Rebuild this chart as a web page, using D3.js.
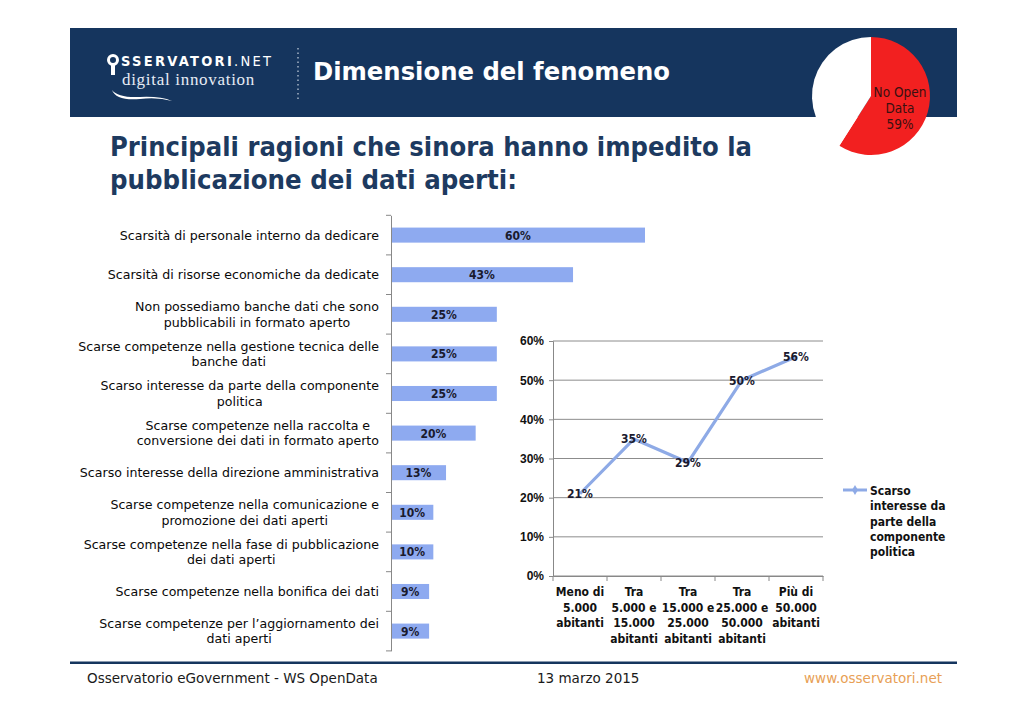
<!DOCTYPE html>
<html><head><meta charset="utf-8">
<script src="https://cdn.jsdelivr.net/npm/d3@7"></script>
<style>
html,body{margin:0;padding:0;background:#fff;}
svg{display:block;font-family:"DejaVu Sans",sans-serif;}
.cond{font-family:"DejaVu Sans Condensed","DejaVu Sans",sans-serif;}
</style></head>
<body><svg id="c" width="1024" height="718"></svg>
<script>
// ---- data ----
const barCategories = [
  "Scarsità di personale interno da dedicare",
  "Scarsità di risorse economiche da dedicate",
  "Non possediamo banche dati che sono|pubblicabili in formato aperto",
  "Scarse competenze nella gestione tecnica delle|banche dati",
  "Scarso interesse da parte della componente|politica",
  "Scarse competenze nella raccolta e|conversione dei dati in formato aperto",
  "Scarso interesse della direzione amministrativa",
  "Scarse competenze nella comunicazione e|promozione dei dati aperti",
  "Scarse competenze nella fase di pubblicazione|dei dati aperti",
  "Scarse competenze nella bonifica dei dati",
  "Scarse competenze per l\u2019aggiornamento dei|dati aperti"
];
const barValues = [0.60, 0.43, 0.25, 0.25, 0.25, 0.20, 0.13, 0.10, 0.10, 0.09, 0.09];

const lineCategories = ["Meno di|5.000|abitanti", "Tra|5.000 e|15.000|abitanti", "Tra|15.000 e|25.000|abitanti", "Tra|25.000 e|50.000|abitanti", "Più di|50.000|abitanti"];
const lineValues = [0.21, 0.35, 0.29, 0.50, 0.56];
const lineTicks = [0, 0.1, 0.2, 0.3, 0.4, 0.5, 0.6];
const lineSeriesName = "Scarso|interesse da|parte della|componente|politica";

const pieLabels = ["No Open|Data", "Open Data"];
const pieValues = [0.59, 0.41];

const svg = d3.select("#c");
const navy = "#15355e";
const barColor = "#8eaaf0";
const pct = d3.format(".0%");

// ---- header band ----
svg.append("rect").attr("x",70).attr("y",28).attr("width",887).attr("height",89).attr("fill",navy);
// logo
const logo = svg.append("g");
logo.append("circle").attr("cx",113).attr("cy",60).attr("r",4.5).attr("fill","none").attr("stroke","#fff").attr("stroke-width",3);
logo.append("rect").attr("x",111).attr("y",64).attr("width",4).attr("height",11).attr("fill","#fff");
logo.append("text").attr("class","cond").attr("x",121).attr("y",66).attr("fill","#fff").attr("font-size",14.5).attr("font-weight","bold").attr("letter-spacing",2.3).text("SSERVATORI")
  .append("tspan").attr("font-weight","normal").text(".NET");
logo.append("text").attr("x",122).attr("y",85).attr("fill","#e6ecf5").attr("font-size",17).attr("font-family","'Liberation Serif',serif").attr("letter-spacing",0.7).text("digital innovation");
logo.append("path").attr("d","M112,90 Q118,98 140,97 Q160,96 172,101 Q158,97 140,99 Q116,101 112,90Z").attr("fill","#fff");
// dotted separator
svg.append("line").attr("x1",298).attr("x2",298).attr("y1",48).attr("y2",101).attr("stroke","#c9d3e0").attr("stroke-width",1.2).attr("stroke-dasharray","1.5,3");
svg.append("text").attr("x",313).attr("y",80).attr("fill","#fff").attr("font-size",24).attr("font-weight","bold")
  .attr("textLength",357).attr("lengthAdjust","spacingAndGlyphs").text("Dimensione del fenomeno");

// ---- pie ----
const pie = d3.pie().sort(null).value(d=>d)(pieValues);
const arc = d3.arc().innerRadius(0).outerRadius(59);
const pg = svg.append("g").attr("transform","translate(871,96)");
pg.selectAll("path").data(pie).join("path").attr("d",arc).attr("fill",(d,i)=>i===0?"#f22020":"#ffffff");
const pl = svg.append("text").attr("class","cond").attr("text-anchor","middle").attr("fill","#3a1010").attr("font-size",13.5);
pieLabels[0].split("|").concat([pct(pieValues[0])]).forEach((t,i)=>pl.append("tspan").attr("x",900).attr("y",97+i*16).text(t));

// ---- title ----
const title = svg.append("g").attr("fill","#1d3a60").attr("font-weight","bold").attr("font-size",26);
title.append("text").attr("x",110).attr("y",156).attr("textLength",642).attr("lengthAdjust","spacingAndGlyphs").text("Principali ragioni che sinora hanno impedito la");
title.append("text").attr("x",110).attr("y",189).attr("textLength",407).attr("lengthAdjust","spacingAndGlyphs").text("pubblicazione dei dati aperti:");

// ---- bar chart ----
const x = d3.scaleLinear().domain([0,0.6]).range([391,645]);
const y = d3.scaleBand().domain(barCategories).range([215.3,650.9]).paddingInner(0.62).paddingOuter(0.31);
const bg = svg.append("g");
bg.selectAll("rect").data(barValues).join("rect")
  .attr("x",x(0)).attr("y",(d,i)=>y(barCategories[i])).attr("height",y.bandwidth())
  .attr("width",d=>x(d)-x(0)).attr("fill",barColor);
bg.selectAll("text.v").data(barValues).join("text").attr("class","v cond")
  .attr("x",d=>(x(0)+x(d))/2).attr("y",(d,i)=>y(barCategories[i])+y.bandwidth()/2+4.5)
  .attr("text-anchor","middle").attr("font-size",12).attr("font-weight","bold").attr("fill","#1a1a2e").text(d=>pct(d));
// axis
const ya = svg.append("g").attr("transform","translate(391,0)").call(d3.axisLeft(y).tickSize(0).tickFormat(""));
ya.select(".domain").attr("stroke","#888");
const step = y.step();
const bounds = d3.range(barCategories.length+1).map(i=>215.3+i*step);
svg.append("g").selectAll("line").data(bounds).join("line")
  .attr("x1",386).attr("x2",391).attr("y1",d=>d).attr("y2",d=>d).attr("stroke","#888");
// category labels
const lab = svg.append("g").attr("font-size",12.6).attr("fill","#0a0a0a");
barCategories.forEach((c,i)=>{
  const lines = c.split("|");
  const cy = y(c)+y.bandwidth()/2;
  const g = lab.append("g");
  const ts = lines.map((l,j)=>g.append("text").attr("text-anchor","middle")
      .attr("y",cy + 4.5 + (j-(lines.length-1)/2)*15.5).text(l));
  const w = d3.max(ts, t=>t.node().getComputedTextLength());
  ts.forEach(t=>t.attr("x",379-w/2));
});

// ---- line chart ----
const lx = d3.scaleBand().domain(lineCategories).range([553,823]);
const ly = d3.scaleLinear().domain([0,0.6]).range([576,341]);
const lg = svg.append("g").attr("class","cond");
lg.selectAll("line.g").data(lineTicks).join("line").attr("class","g")
  .attr("x1",553).attr("x2",823).attr("y1",d=>ly(d)).attr("y2",d=>ly(d)).attr("stroke","#8c8c8c").attr("stroke-width",1);
const lya = lg.append("g").attr("transform","translate(553,0)")
  .call(d3.axisLeft(ly).tickValues(lineTicks).tickFormat(pct).tickSize(4));
lya.select(".domain").attr("stroke","#888");
lya.selectAll(".tick line").attr("stroke","#888");
lya.selectAll("text").attr("font-size",12).attr("font-weight","bold").attr("fill","#111").attr("font-family","inherit").attr("dx",-2);
const lxa = lg.append("g").attr("transform","translate(0,576)").call(d3.axisBottom(lx).tickSize(0).tickFormat(""));
lxa.select(".domain").attr("stroke","#888");
lg.selectAll("line.xt").data(d3.range(lineCategories.length+1)).join("line").attr("class","xt")
  .attr("x1",d=>553+d*lx.step()).attr("x2",d=>553+d*lx.step()).attr("y1",576).attr("y2",581).attr("stroke","#888");
// x labels
lineCategories.forEach(c=>{
  const t = lg.append("text").attr("text-anchor","middle").attr("font-size",12).attr("font-weight","bold").attr("fill","#111");
  c.split("|").forEach((l,j)=>t.append("tspan").attr("x",lx(c)+lx.bandwidth()/2).attr("y",596+j*15.5).text(l));
});
const line = d3.line().x((d,i)=>lx(lineCategories[i])+lx.bandwidth()/2).y(d=>ly(d));
lg.append("path").datum(lineValues).attr("d",line).attr("fill","none").attr("stroke","#8eaae6").attr("stroke-width",3.2).attr("stroke-linejoin","round");
lg.selectAll("text.dl").data(lineValues).join("text").attr("class","dl")
  .attr("x",(d,i)=>lx(lineCategories[i])+lx.bandwidth()/2).attr("y",d=>ly(d)+4.5)
  .attr("text-anchor","middle").attr("font-size",12).attr("font-weight","bold").attr("fill","#1a1a2e").text(d=>pct(d));
// legend
const leg = svg.append("g").attr("class","cond");
leg.append("line").attr("x1",843).attr("x2",867).attr("y1",490).attr("y2",490).attr("stroke","#8eaae6").attr("stroke-width",3);
leg.append("path").attr("d",d3.symbol(d3.symbolDiamond,30)()).attr("transform","translate(855,490)").attr("fill","#8eaae6");
const lt = leg.append("text").attr("font-size",12).attr("font-weight","bold").attr("fill","#111");
lineSeriesName.split("|").forEach((l,j)=>lt.append("tspan").attr("x",870).attr("y",495+j*15.3).text(l));

// ---- footer ----
svg.append("rect").attr("x",70).attr("y",661.5).attr("width",887).attr("height",2.5).attr("fill",navy);
const ft = svg.append("g").attr("font-size",13.5);
ft.append("text").attr("x",87).attr("y",683).attr("fill","#1a1a1a").text("Osservatorio eGovernment - WS OpenData");
ft.append("text").attr("x",537).attr("y",683).attr("fill","#1a1a1a").text("13 marzo 2015");
ft.append("text").attr("x",942).attr("y",683).attr("text-anchor","end").attr("fill","#e8a055").text("www.osservatori.net");
</script></body></html>
